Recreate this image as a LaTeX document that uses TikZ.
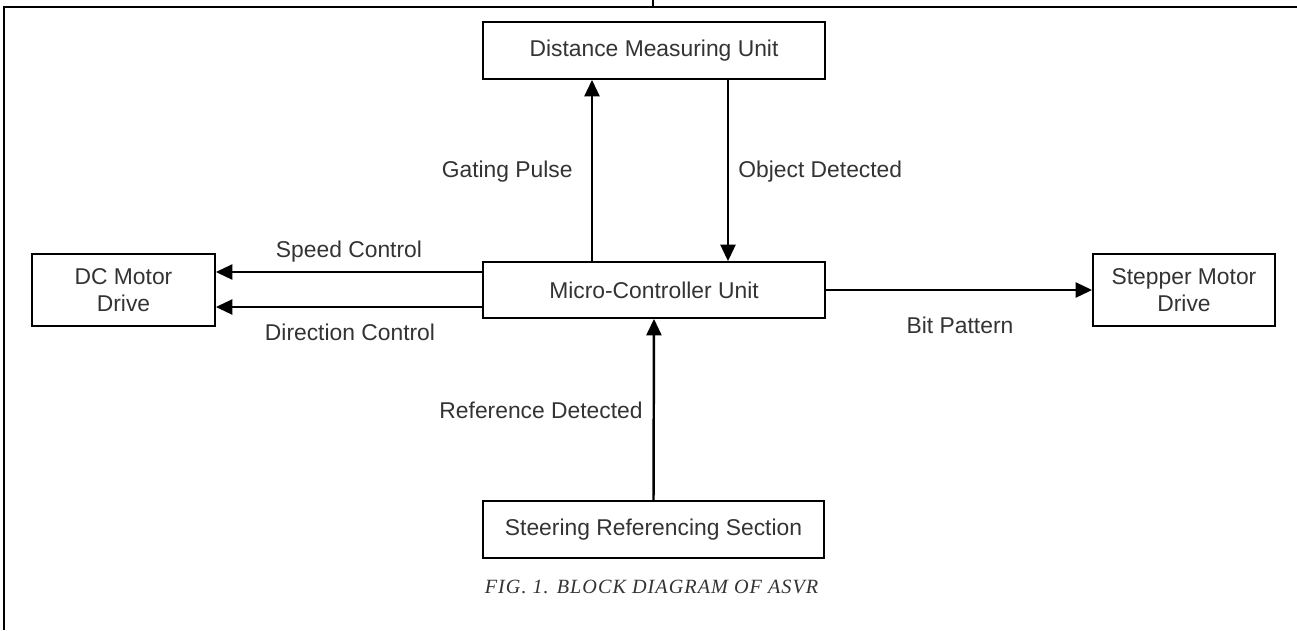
\documentclass[tikz,border=0pt]{standalone}
\usepackage{fontspec}
\setmainfont{Liberation Sans}
\newfontfamily\capfont[LetterSpace=5]{Liberation Serif}
\usetikzlibrary{arrows.meta,positioning}
\tikzset{
	blk/.style={draw,line width=1pt,align=center,inner sep=0pt,text=black!80,font=\fontsize{13}{15.5}\selectfont},
	arr/.style={line width=1.4pt,-{Triangle[length=0.33cm,width=0.3cm]}},
	lbl/.style={text=black!80,font=\fontsize{13}{15.5}\selectfont,inner sep=0pt}
}
\begin{document}
\begin{tikzpicture}
	\useasboundingbox (0,0) rectangle (25.94,-12.6);
	%FRAME
	\draw[line width=1.5pt] (0.08,-12.6)--(0.08,-0.14)--(25.94,-0.14);
	\draw[line width=0.8pt] (13.06,0)--(13.06,-0.14);
	%BLOCKS
	\node[blk,minimum width=6.84cm,minimum height=1.14cm] (dmu) at (13.08,-1.01) {Distance Measuring Unit};
	\node[blk,minimum width=6.84cm,minimum height=1.12cm] (mcu) at (13.08,-5.8) {Micro-Controller Unit};
	\node[blk,minimum width=3.66cm,minimum height=1.44cm] (dc) at (2.47,-5.8) {DC Motor\\Drive};
	\node[blk,minimum width=3.64cm,minimum height=1.44cm] (stp) at (23.68,-5.8) {Stepper Motor\\Drive};
	\node[blk,minimum width=6.82cm,minimum height=1.14cm] (srs) at (13.07,-10.59) {Steering Referencing Section};
	%SIGNALS
	\coordinate (gp) at (11.84,0);
	\coordinate (od) at (14.56,0);
	\coordinate (sc) at ([yshift=0.36cm]dc.east);
	\coordinate (dir) at ([yshift=-0.34cm]dc.east);
	\draw[arr] (mcu.north -| gp) -- (dmu.south -| gp);
	\draw[arr] (dmu.south -| od) -- (mcu.north -| od);
	\draw[arr] (mcu.west |- sc) -- (sc);
	\draw[arr] (mcu.west |- dir) -- (dir);
	\draw[arr] (mcu.east |- stp.west) -- (stp.west);
	\draw[arr] (srs.north) -- (mcu.south);
	%LABELS
	\node[lbl,anchor=base east] (gpl) at (11.46,-3.54) {Gating Pulse};
	\node[lbl,anchor=base west] (odl) at (14.76,-3.54) {Object Detected};
	\node[lbl,anchor=base] (scl) at (6.98,-5.14) {Speed Control};
	\node[lbl,anchor=base] (dirl) at (7.0,-6.8) {Direction Control};
	\node[lbl,anchor=base] (bpl) at (19.2,-6.66) {Bit Pattern};
	\node[lbl,anchor=base east] (rdl) at (12.86,-8.36) {Reference Detected};
	\node[anchor=base,inner sep=0pt,text=black!80,font=\capfont\itshape\fontsize{11.5}{14}\selectfont] (cap) at (13.03,-11.86) {FIG. 1. BLOCK DIAGRAM OF ASVR};
\end{tikzpicture}
\end{document}
